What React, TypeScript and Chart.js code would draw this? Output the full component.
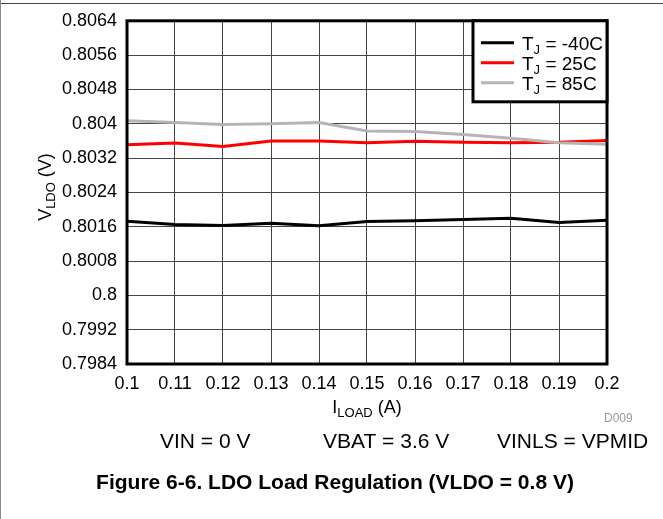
import { useEffect, useRef } from "react";
import { Chart, registerables } from "chart.js";

Chart.register(...registerables);

// ---- data ----
const loadCurrent = [0.1, 0.11, 0.12, 0.13, 0.14, 0.15, 0.16, 0.17, 0.18, 0.19, 0.2];
const vldoTjMinus40 = [0.80173, 0.80165, 0.80163, 0.80168, 0.80162, 0.80172, 0.80174, 0.80177, 0.8018, 0.8017, 0.80175];
const vldoTj25 = [0.80351, 0.80355, 0.80347, 0.8036, 0.8036, 0.80356, 0.80359, 0.80357, 0.80356, 0.80357, 0.80361];
const vldoTj85 = [0.80407, 0.80403, 0.80398, 0.804, 0.80403, 0.80383, 0.80382, 0.80375, 0.80366, 0.80356, 0.80352];
const seriesTemps = ["-40C", "25C", "85C"];
const seriesColors = ["#000000", "#ff0000", "#b4b4b4"];
const xTickValues = [0.1, 0.11, 0.12, 0.13, 0.14, 0.15, 0.16, 0.17, 0.18, 0.19, 0.2];
const yTickValues = [0.7984, 0.7992, 0.8, 0.8008, 0.8016, 0.8024, 0.8032, 0.804, 0.8048, 0.8056, 0.8064];
const conditionTexts = ["VIN = 0 V", "VBAT = 3.6 V", "VINLS = VPMID"];
const captionText = "Figure 6-6. LDO Load Regulation (VLDO = 0.8 V)";
const docId = "D009";

const FONT = "'Liberation Sans', Arial, Helvetica, sans-serif";

type Part = [string, boolean];

function measureParts(ctx: CanvasRenderingContext2D, parts: Part[], size: number, sub: number) {
  let w = 0;
  for (const [t, s] of parts) {
    ctx.font = `${s ? sub : size}px ${FONT}`;
    w += ctx.measureText(t).width;
  }
  return w;
}

function drawParts(ctx: CanvasRenderingContext2D, parts: Part[], x: number, y: number, size: number, sub: number) {
  let cx = x;
  ctx.textAlign = "left";
  ctx.textBaseline = "alphabetic";
  for (const [t, s] of parts) {
    ctx.font = `${s ? sub : size}px ${FONT}`;
    ctx.fillText(t, cx, s ? y + 4 : y);
    cx += ctx.measureText(t).width;
  }
}

const decorPlugin = {
  id: "decor",
  afterDraw(chart: any) {
    const ctx: CanvasRenderingContext2D = chart.ctx;
    const a = chart.chartArea;
    ctx.save();
    // page frame lines
    ctx.fillStyle = "#444";
    ctx.fillRect(0, 3, chart.width, 1);
    ctx.fillStyle = "#888";
    ctx.fillRect(0, 0, 1, chart.height);

    // plot border
    ctx.strokeStyle = "#000";
    ctx.lineWidth = 3;
    ctx.strokeRect(a.left, a.top, a.right - a.left, a.bottom - a.top);

    // legend
    const lx = 473, ly = a.top, lw = a.right - 473, lh = 81;
    ctx.fillStyle = "#fff";
    ctx.fillRect(lx, ly, lw, lh);
    ctx.strokeRect(lx, ly, lw, lh);
    seriesTemps.forEach((t, i) => {
      const yy = ly + 22 + i * 20;
      ctx.strokeStyle = seriesColors[i];
      ctx.lineWidth = 3;
      ctx.beginPath();
      ctx.moveTo(481, yy);
      ctx.lineTo(514, yy);
      ctx.stroke();
      ctx.fillStyle = "#000";
      drawParts(ctx, [["T", false], ["J", true], [" = " + t, false]], 522, yy + 7, 19, 13);
    });

    // y title
    ctx.fillStyle = "#000";
    ctx.save();
    ctx.translate(44, 187);
    ctx.rotate(-Math.PI / 2);
    const yParts: Part[] = [["V", false], ["LDO", true], [" (V)", false]];
    const yw = measureParts(ctx, yParts, 18, 13);
    drawParts(ctx, yParts, -yw / 2, 7, 18, 13);
    ctx.restore();

    // x title
    const xParts: Part[] = [["I", false], ["LOAD", true], [" (A)", false]];
    const xw = measureParts(ctx, xParts, 18, 13);
    drawParts(ctx, xParts, (a.left + a.right) / 2 - xw / 2, 413, 18, 13);

    // doc id
    ctx.fillStyle = "#999";
    ctx.font = `12px ${FONT}`;
    ctx.textAlign = "left";
    ctx.fillText(docId, 604, 422);

    // conditions
    ctx.fillStyle = "#000";
    ctx.font = `21px ${FONT}`;
    const cx = [160, 323, 497];
    conditionTexts.forEach((t, i) => ctx.fillText(t, cx[i], 448));

    // caption
    ctx.font = `bold 21px ${FONT}`;
    ctx.textAlign = "center";
    ctx.fillText(captionText, 335, 489);
    ctx.restore();
  },
};

export default function App() {
  const ref = useRef<HTMLCanvasElement | null>(null);
  useEffect(() => {
    if (!ref.current) return;
    const series = [vldoTjMinus40, vldoTj25, vldoTj85];
    const chart = new Chart(ref.current, {
      type: "line",
      data: {
        datasets: series.map((s, i) => ({
          label: "TJ = " + seriesTemps[i],
          data: loadCurrent.map((x, j) => ({ x, y: s[j] })),
          borderColor: seriesColors[i],
          borderWidth: 3,
          pointRadius: 0,
          tension: 0,
          fill: false,
          order: 2 - i,
        })),
      },
      options: {
        animation: false,
        responsive: false,
        devicePixelRatio: 1,
        layout: { padding: { top: 20, right: 56, left: 0, bottom: 0 } },
        plugins: { legend: { display: false }, tooltip: { enabled: false } },
        scales: {
          x: {
            type: "linear",
            min: 0.1,
            max: 0.2,
            afterBuildTicks: (s: any) => {
              s.ticks = xTickValues.map((v) => ({ value: v }));
            },
            afterFit: (s: any) => {
              s.height = 155;
            },
            ticks: {
              autoSkip: false,
              maxRotation: 0,
              padding: 9,
              color: "#000",
              font: { family: FONT, size: 18 },
              callback: (v: any) => String(v),
            },
            grid: { color: "#444", lineWidth: 1, drawTicks: false },
            border: { display: false },
          },
          y: {
            type: "linear",
            min: 0.7984,
            max: 0.8064,
            afterBuildTicks: (s: any) => {
              s.ticks = yTickValues.map((v) => ({ value: v }));
            },
            afterFit: (s: any) => {
              s.width = 127;
            },
            ticks: {
              autoSkip: false,
              padding: 10,
              color: "#000",
              font: { family: FONT, size: 18 },
              callback: (v: any) => String(v),
            },
            grid: { color: "#444", lineWidth: 1, drawTicks: false },
            border: { display: false },
          },
        },
      },
      plugins: [decorPlugin],
    } as any);
    return () => chart.destroy();
  }, []);
  return (
    <div style={{ position: "fixed", left: 0, top: 0, width: 663, height: 519, background: "#fff" }}>
      <canvas ref={ref} width={663} height={519} style={{ display: "block" }} />
    </div>
  );
}
